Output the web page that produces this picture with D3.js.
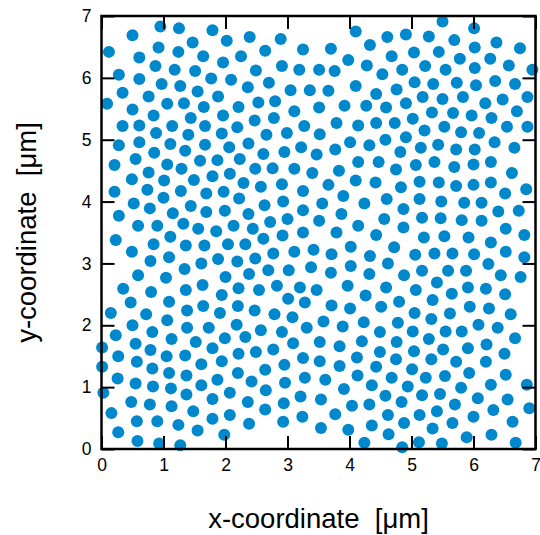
<!DOCTYPE html>
<html>
<head>
<meta charset="utf-8">
<script src="https://cdn.jsdelivr.net/npm/d3@7"></script>
<style>
  body { margin: 0; background: #fff; }
  text { font-family: "Liberation Sans", Arial, sans-serif; fill: #000; }
</style>
</head>
<body>
<svg id="chart" width="540" height="535"></svg>
<script>
// particle centres [x, y] in µm
const dots = [
  [0.95,6.83],[1.25,6.80],[0.50,6.69],[1.47,6.57],[0.12,6.42],[0.92,6.49],[1.24,6.42],[0.61,6.33],[1.64,6.35],[0.87,6.19],[1.18,6.13],[1.51,6.11],[0.28,6.05],[0.61,5.98],[0.97,5.90],[1.27,5.87],[1.55,5.78],[0.34,5.76],[0.76,5.70],[0.09,5.58],[1.06,5.58],[1.33,5.59],[1.65,5.53],[0.50,5.49],[0.84,5.39],[1.44,5.35],[0.34,5.22],[0.61,5.23],[1.14,5.22],[1.67,5.22],[0.88,5.11],[1.40,5.08],[0.28,4.91],[0.61,4.96],[1.11,4.93],[1.67,4.92],[0.85,4.79],[1.35,4.82],
  [1.79,6.77],[2.02,6.60],[2.39,6.66],[2.89,6.63],[2.64,6.44],[3.25,6.46],[2.25,6.35],[1.96,6.25],[2.91,6.19],[2.49,6.12],[3.19,6.13],[1.77,5.99],[2.09,5.97],[2.70,5.92],[2.36,5.85],[3.05,5.80],[3.36,5.80],[1.88,5.70],[2.21,5.53],[2.53,5.60],[2.80,5.62],[3.11,5.46],[1.96,5.39],[2.47,5.31],[2.78,5.35],[2.19,5.20],[3.27,5.22],[1.94,5.10],[2.66,5.08],[2.99,5.11],[2.06,4.88],[2.37,4.94],[3.22,4.88],[2.61,4.77],[2.95,4.80],[3.47,4.76],
  [4.10,6.75],[4.61,6.66],[4.91,6.70],[3.70,6.47],[4.33,6.53],[3.98,6.29],[4.28,6.20],[4.68,6.35],[5.04,6.41],[3.51,6.13],[3.76,6.11],[4.53,6.06],[4.85,6.13],[5.22,6.19],[4.10,5.87],[3.66,5.79],[4.43,5.74],[4.76,5.81],[5.05,5.93],[3.51,5.52],[3.92,5.55],[4.27,5.55],[4.59,5.52],[4.91,5.59],[5.18,5.69],[3.79,5.27],[4.14,5.23],[4.43,5.27],[4.73,5.27],[5.02,5.34],[3.52,5.09],[4.01,4.96],[4.32,4.91],[4.58,5.00],[4.91,5.04],[5.21,5.15],[3.77,4.84],[4.82,4.80],[5.15,4.87],
  [5.50,6.91],[6.01,6.80],[5.28,6.67],[5.69,6.61],[6.37,6.57],[6.75,6.48],[5.44,6.42],[6.02,6.49],[5.78,6.31],[6.27,6.31],[6.57,6.20],[5.55,6.13],[6.02,6.16],[6.95,6.13],[5.35,5.90],[5.73,5.92],[6.04,5.88],[6.35,5.95],[6.67,5.90],[5.50,5.66],[5.83,5.69],[6.19,5.59],[6.47,5.65],[6.87,5.69],[5.33,5.44],[5.67,5.43],[5.97,5.39],[6.29,5.35],[6.70,5.46],[5.53,5.21],[5.80,5.12],[6.09,5.11],[6.54,5.21],[6.87,5.21],[5.43,4.92],[5.72,4.84],[6.02,4.84],[6.34,4.96],[6.66,4.87],
  [0.55,4.69],[0.21,4.59],[1.06,4.60],[1.29,4.53],[1.59,4.66],[0.49,4.36],[0.76,4.47],[1.01,4.34],[1.49,4.35],[0.21,4.16],[0.74,4.19],[1.00,4.06],[1.28,4.17],[1.69,4.13],[0.52,3.97],[0.78,3.89],[1.44,3.93],[0.28,3.77],[1.15,3.81],[1.69,3.83],[0.59,3.61],[0.90,3.61],[1.32,3.64],[1.56,3.56],[0.23,3.38],[1.11,3.43],[0.84,3.31],[1.36,3.29],[1.66,3.29],[0.49,3.19],[0.79,3.04],[1.09,3.10],[1.61,3.00],[0.59,2.81],[1.04,2.77],[1.34,2.91],[0.35,2.59],[0.80,2.54],[1.36,2.57],[1.63,2.65],[0.47,2.37],[1.09,2.38],
  [1.87,4.67],[2.23,4.69],[1.79,4.41],[2.07,4.45],[2.48,4.53],[2.76,4.54],[3.11,4.53],[3.40,4.46],[1.97,4.16],[2.29,4.30],[2.57,4.24],[2.91,4.28],[3.25,4.17],[2.22,4.05],[2.63,3.94],[2.93,4.00],[1.99,3.85],[2.37,3.80],[3.25,3.86],[2.72,3.67],[3.00,3.72],[1.85,3.52],[2.13,3.61],[2.44,3.56],[2.61,3.40],[2.92,3.45],[3.25,3.50],[2.04,3.31],[2.32,3.31],[2.77,3.16],[3.11,3.19],[3.42,3.22],[1.88,3.07],[2.19,3.03],[2.48,3.08],[2.69,2.89],[3.02,2.89],[3.38,2.94],[2.00,2.78],[2.38,2.83],[2.21,2.60],[2.54,2.57],[2.83,2.64],[3.20,2.61],[3.47,2.57],[1.94,2.49],[3.01,2.43],[3.28,2.37],
  [4.14,4.64],[4.47,4.64],[4.75,4.52],[5.07,4.59],[3.83,4.50],[4.10,4.34],[4.42,4.31],[4.83,4.23],[5.13,4.32],[3.66,4.27],[3.56,3.97],[3.90,4.09],[4.24,3.97],[4.60,4.04],[4.87,3.88],[5.13,4.04],[3.87,3.80],[3.51,3.69],[4.14,3.61],[4.56,3.72],[5.17,3.74],[3.79,3.50],[4.43,3.46],[4.87,3.58],[5.20,3.42],[4.02,3.27],[4.72,3.26],[3.71,3.15],[4.33,3.12],[5.06,3.14],[4.02,2.96],[4.62,3.00],[3.70,2.85],[4.32,2.83],[4.88,2.81],[5.17,2.88],[3.97,2.64],[4.59,2.61],[5.07,2.57],[4.26,2.48],[4.80,2.38],
  [5.37,4.64],[5.69,4.56],[6.00,4.60],[6.28,4.64],[6.62,4.46],[5.44,4.31],[5.72,4.25],[6.00,4.27],[6.28,4.31],[6.51,4.13],[6.85,4.20],[5.48,4.00],[5.85,3.98],[6.13,3.98],[6.40,3.84],[6.73,3.85],[5.47,3.73],[5.81,3.70],[6.13,3.69],[6.52,3.56],[6.82,3.46],[5.53,3.44],[5.92,3.42],[6.28,3.34],[5.37,3.16],[5.66,3.16],[6.01,3.15],[6.52,3.19],[6.82,3.10],[6.24,2.99],[5.59,2.88],[5.88,2.88],[6.44,2.81],[6.76,2.78],[5.41,2.69],[5.65,2.51],[5.91,2.61],[6.20,2.59],[6.51,2.50],[5.34,2.41],
  [0.15,2.20],[0.72,2.18],[1.38,2.24],[1.64,2.31],[0.50,2.00],[1.06,2.08],[1.38,1.96],[0.23,1.84],[0.82,1.89],[1.13,1.78],[1.52,1.73],[0.01,1.64],[0.55,1.70],[0.79,1.60],[0.27,1.50],[1.05,1.50],[1.35,1.51],[0.01,1.33],[0.57,1.41],[0.82,1.30],[1.61,1.37],[1.09,1.23],[1.37,1.19],[0.26,1.14],[0.55,1.06],[0.83,1.01],[1.12,0.98],[1.61,1.03],[0.03,0.91],[1.37,0.88],[0.48,0.76],[0.78,0.72],[1.13,0.69],[1.48,0.61],[0.16,0.58],[0.57,0.45],[0.90,0.45],[1.24,0.39],[1.55,0.30],[0.27,0.27],[0.58,0.13],[0.93,0.09],[1.27,0.06],
  [2.20,2.31],[2.47,2.24],[1.91,2.20],[1.73,1.96],[2.18,2.01],[2.79,2.18],[3.08,2.13],[1.99,1.79],[2.32,1.81],[2.57,1.92],[2.91,1.89],[3.31,1.96],[1.79,1.63],[2.21,1.54],[2.49,1.57],[2.77,1.61],[3.09,1.71],[1.94,1.42],[2.64,1.28],[2.95,1.36],[3.25,1.47],[2.20,1.23],[1.87,1.12],[2.42,1.09],[2.96,1.07],[3.28,1.15],[1.79,0.81],[2.07,0.91],[2.65,0.95],[2.36,0.76],[2.94,0.74],[3.21,0.85],[1.79,0.49],[2.07,0.55],[2.64,0.64],[2.38,0.41],[2.93,0.44],[3.24,0.52],[1.98,0.23],
  [3.71,2.32],[4.01,2.27],[4.51,2.30],[5.05,2.20],[3.58,2.06],[3.89,1.98],[4.23,2.05],[4.78,2.04],[4.49,1.89],[5.02,1.90],[3.52,1.73],[3.84,1.66],[4.20,1.74],[4.76,1.73],[4.49,1.57],[5.04,1.58],[3.52,1.42],[3.84,1.34],[4.12,1.48],[4.43,1.33],[4.75,1.45],[5.01,1.29],[3.61,1.12],[4.13,1.19],[4.68,1.15],[4.36,1.03],[4.94,1.01],[5.23,1.15],[3.54,0.80],[3.91,0.97],[4.58,0.86],[4.84,0.76],[5.17,0.87],[4.04,0.70],[4.32,0.72],[3.77,0.56],[4.62,0.55],[5.13,0.55],[3.54,0.34],[3.98,0.31],[4.36,0.38],[4.88,0.42],[4.24,0.10],[4.63,0.24],[4.85,0.03],[5.12,0.11],
  [5.94,2.30],[6.25,2.27],[6.60,2.18],[5.62,2.19],[5.32,2.10],[6.08,2.01],[6.39,1.96],[5.55,1.90],[5.81,1.90],[5.28,1.78],[6.67,1.79],[5.51,1.61],[5.91,1.63],[6.21,1.69],[6.50,1.54],[5.32,1.45],[5.72,1.41],[6.20,1.41],[5.93,1.23],[5.54,1.18],[6.52,1.20],[6.28,1.04],[5.80,0.99],[6.86,1.04],[5.46,0.89],[6.07,0.82],[6.55,0.80],[5.70,0.72],[6.90,0.66],[5.41,0.61],[6.32,0.63],[6.00,0.52],[5.66,0.42],[6.63,0.44],[5.34,0.33],[5.89,0.19],[6.29,0.23],[5.49,0.09],[6.68,0.10]
]
const xTicks = [0, 1, 2, 3, 4, 5, 6, 7]
const yTicks = [0, 1, 2, 3, 4, 5, 6, 7]

const svg = d3.select('#chart')
const plotLeft = 101.5, plotRight = 535.5, plotTop = 16, plotBottom = 449

const x = d3.scaleLinear().domain([0, 7]).range([plotLeft, plotRight])
const y = d3.scaleLinear().domain([0, 7]).range([plotBottom, plotTop])

svg.append('g')
  .selectAll('circle')
  .data(dots)
  .enter()
  .append('circle')
  .attr('cx', d => x(d[0]))
  .attr('cy', d => y(d[1]))
  .attr('r', 6)
  .attr('fill', '#0088cc')

// inward ticks on all four sides
const tickLen = 13
const axisStyle = g => {
  g.select('.domain').remove()
  g.selectAll('line').attr('stroke', '#000').attr('stroke-width', 2)
}

svg.append('g')
  .attr('transform', `translate(0,${plotBottom})`)
  .call(d3.axisBottom(x).tickValues(xTicks).tickSize(-tickLen).tickPadding(10).tickFormat(d3.format('d')))
  .call(axisStyle)
svg.append('g')
  .attr('transform', `translate(0,${plotTop})`)
  .call(d3.axisTop(x).tickValues(xTicks).tickSize(-tickLen).tickFormat(''))
  .call(axisStyle)
svg.append('g')
  .attr('transform', `translate(${plotLeft},0)`)
  .call(d3.axisLeft(y).tickValues(yTicks).tickSize(-tickLen).tickPadding(10).tickFormat(d3.format('d')))
  .call(axisStyle)
svg.append('g')
  .attr('transform', `translate(${plotRight},0)`)
  .call(d3.axisRight(y).tickValues(yTicks).tickSize(-tickLen).tickFormat(''))
  .call(axisStyle)

svg.selectAll('.tick text')
  .attr('font-size', 17.5)
  .attr('font-family', '"Liberation Sans", Arial, sans-serif')
  .attr('fill', '#000')

svg.append('rect')
  .attr('x', plotLeft).attr('y', plotTop)
  .attr('width', plotRight - plotLeft).attr('height', plotBottom - plotTop)
  .attr('fill', 'none').attr('stroke', '#000').attr('stroke-width', 2.5)

svg.append('text')
  .attr('x', (plotLeft + plotRight) / 2).attr('y', 528)
  .attr('text-anchor', 'middle')
  .attr('font-size', 27.5)
  .style('white-space', 'pre')
  .text('x-coordinate  [μm]')

svg.append('text')
  .attr('transform', `translate(36,${(plotTop + plotBottom) / 2}) rotate(-90)`)
  .attr('text-anchor', 'middle')
  .attr('font-size', 27.5)
  .style('white-space', 'pre')
  .text('y-coordinate  [μm]')
</script>
</body>
</html>
